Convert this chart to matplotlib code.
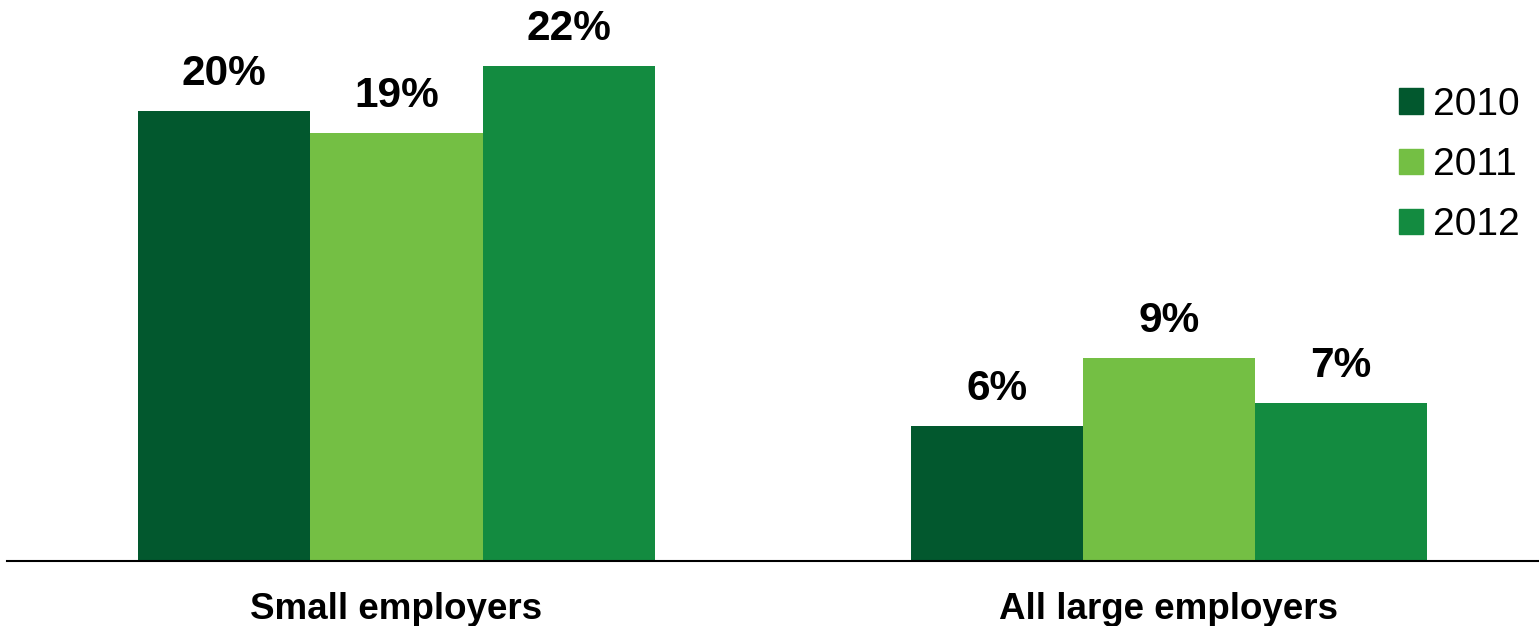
import numpy as np
import matplotlib
matplotlib.use('Agg')
import matplotlib.pyplot as plt
from matplotlib.patches import Patch

plt.rcParams['font.family'] = ['Liberation Sans', 'DejaVu Sans']

categories = ['Small employers', 'All large employers']
years = ['2010', '2011', '2012']
vals_2010 = [20, 6]
vals_2011 = [19, 9]
vals_2012 = [22, 7]
colors = ['#02582E', '#74BF44', '#138B40']

fig = plt.figure(figsize=(15.39, 6.26), dpi=100)
ax = fig.add_axes([7 / 1539, 65 / 626, 1532 / 1539, 561 / 626])

x = np.arange(len(categories))
w = 0.223
series = [vals_2010, vals_2011, vals_2012]
for i, (vals, c) in enumerate(zip(series, colors)):
    bars = ax.bar(x + (i - 1) * w, vals, width=w, color=c, label=years[i])
    for b, v in zip(bars, vals):
        ax.annotate(f'{v}%', (b.get_x() + b.get_width() / 2, v),
                    xytext=(0, 19), textcoords='offset points',
                    ha='center', va='baseline', fontsize=30.5, fontweight='bold')

ax.set_xlim(-0.504, 1.479)
ax.set_ylim(0, 24.93)
ax.set_xticks(x)
ax.set_xticklabels(categories, fontsize=26.5, fontweight='bold')
ax.tick_params(axis='x', length=0, pad=22)
ax.set_yticks([])
for s in ['top', 'right', 'left']:
    ax.spines[s].set_visible(False)
ax.spines['bottom'].set_linewidth(1.5)

handles = [Patch(color=c) for c in colors]
ax.legend(handles, years, loc='upper right', bbox_to_anchor=(1.0, 0.88),
          frameon=False, fontsize=28, handlelength=0.62, handleheight=0.62,
          handletextpad=0.25, labelspacing=0.62, borderaxespad=0.1)

fig.savefig('out.png', dpi=100)
